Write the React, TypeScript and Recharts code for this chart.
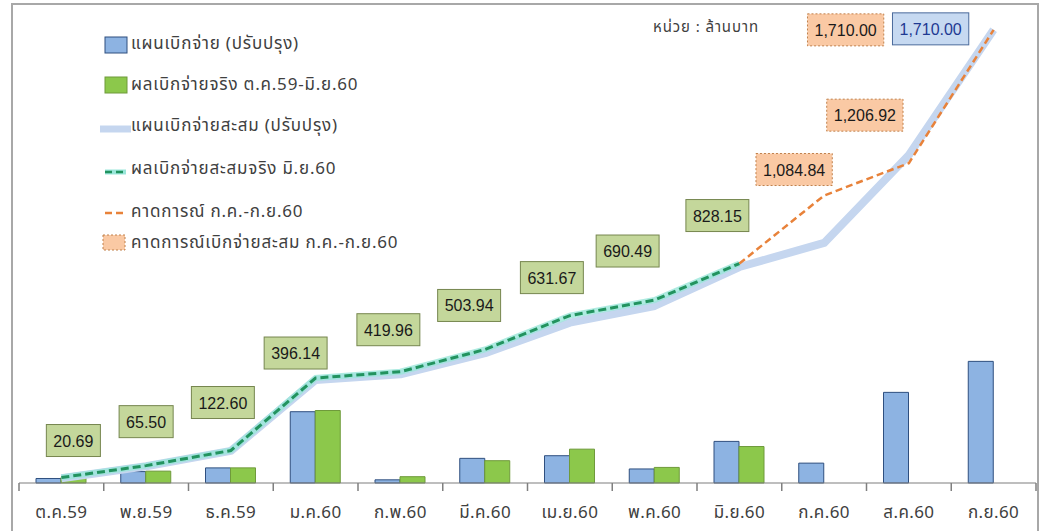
import React from 'react';
import { ComposedChart, Bar, Line, XAxis, YAxis, LabelList } from 'recharts';

// ---------- data ----------
const categories = ['ต.ค.59', 'พ.ย.59', 'ธ.ค.59', 'ม.ค.60', 'ก.พ.60', 'มี.ค.60', 'เม.ย.60', 'พ.ค.60', 'มิ.ย.60', 'ก.ค.60', 'ส.ค.60', 'ก.ย.60'];
const planMonthly = [17, 43, 57, 269, 12, 93, 103, 53, 157, 75, 342, 459];
const actualMonthly = [20.69, 44.81, 57.1, 273.54, 23.82, 84.16, 127.73, 58.82, 137.66, null, null, null];
const planCumulative = [18, 63, 121, 389, 410, 490, 605, 668, 815, 906, 1238, 1710];
const actualCumulative = [20.69, 65.5, 122.6, 396.14, 419.96, 503.94, 631.67, 690.49, 828.15, null, null, null];
const forecastCumulative = [null, null, null, null, null, null, null, null, 828.15, 1084.84, 1206.92, 1710.0];

const seriesNames = [
  'แผนเบิกจ่าย (ปรับปรุง)',
  'ผลเบิกจ่ายจริง ต.ค.59-มิ.ย.60',
  'แผนเบิกจ่ายสะสม (ปรับปรุง)',
  'ผลเบิกจ่ายสะสมจริง มิ.ย.60',
  'คาดการณ์ ก.ค.-ก.ย.60',
  'คาดการณ์เบิกจ่ายสะสม ก.ค.-ก.ย.60',
];
const unitLabel = 'หน่วย : ล้านบาท';
const yMax = 1800;

const data = categories.map((month, i) => ({
  month,
  planM: planMonthly[i],
  actM: actualMonthly[i],
  planC: planCumulative[i],
  actC: actualCumulative[i],
  fc: forecastCumulative[i],
}));

// ---------- styles ----------
const THAI = "'Noto Sans Thai', Tahoma, Loma, Garuda, 'Noto Sans', 'DejaVu Sans', sans-serif";
const NUM = "'Liberation Sans', Arial, sans-serif";
const BLUE_FILL = '#8db3e2';
const BLUE_STROKE = '#2f4f7f';
const GREEN_FILL = '#8cc84b';
const GREEN_STROKE = '#6f9a3b';
const PLAN_LINE = '#c5d6ef';
const ACT_LINE = '#22935f';
const ACT_GLOW = '#9ae6da';
const FC_LINE = '#e8823a';
const AXIS = '#7f7f7f';

// label nudges (relative to the point computed by the library)
const actualNudge: Record<number, [number, number]> = {
  0: [12, -37], 1: [0, -44], 2: [-8, -48], 3: [-20, -25], 4: [-12, -42],
  5: [-16, -44], 6: [-18, -38], 7: [-27, -49], 8: [-22, -48],
};
const forecastNudge: Record<number, [number, number]> = { 9: [-30, -26], 10: [-44, -48], 11: [-148, 0] };
const planNudge: Record<number, [number, number]> = { 11: [-63, -1] };

const fmt = (v: number) => v.toLocaleString('en-US', { minimumFractionDigits: 2, maximumFractionDigits: 2 });
const textW = (s: string) => {
  let w = 0;
  for (const ch of s) w += ch === '.' || ch === ',' ? 4.45 : 8.9;
  return w;
};

type BoxStyle = { fill: string; stroke: string; dash?: string; color: string };
const greenBox: BoxStyle = { fill: '#c4d79b', stroke: '#76864f', color: '#1a1a1a' };
const orangeBox: BoxStyle = { fill: '#fac9a4', stroke: '#c0804b', dash: '2 2', color: '#1a1a1a' };
const blueBox: BoxStyle = { fill: '#c6d9f1', stroke: '#4a6a9c', color: '#1f3a93' };

const makeBoxLabel = (nudge: Record<number, [number, number]>, st: BoxStyle) => (props: any) => {
  const { x, y, value, index } = props;
  if (value == null || x == null || y == null) return null;
  const n = nudge[index];
  if (!n) return null;
  const s = fmt(Number(value));
  const w = textW(s) + 14;
  const h = 32;
  const cx = x + n[0];
  const cy = y + n[1];
  return (
    <g>
      <rect x={cx - w / 2} y={cy - h / 2} width={w} height={h} fill={st.fill} stroke={st.stroke} strokeWidth={1} strokeDasharray={st.dash} />
      <text x={cx} y={cy + 6} textAnchor="middle" fontFamily={NUM} fontSize={16} fill={st.color}>{s}</text>
    </g>
  );
};

const AxisTick = (props: any) => {
  const { x, y, payload, index } = props;
  const px = Number(x);
  const py = Number(y);
  const half = payload && payload.offset ? Number(payload.offset) : 1017 / 24;
  const last = index === categories.length - 1;
  return (
    <g>
      <path d={`M${px - half},${py}L${px - half},${py + 8}`} stroke={AXIS} strokeWidth={1.5} fill="none" />
      {last && <path d={`M${px + half},${py}L${px + half},${py + 8}`} stroke={AXIS} strokeWidth={1.5} fill="none" />}
      <text x={px} y={py + 35} textAnchor="middle" fontFamily={THAI} fontSize={17} letterSpacing={0.4} fill="#404040">{payload.value}</text>
    </g>
  );
};

const LegendOverlay = () => {
  const tx = 131;
  const rows = [43, 84, 125, 168, 211, 242];
  return (
    <svg width={1042} height={531} style={{ position: 'absolute', left: 0, top: 0, pointerEvents: 'none' }}>
      <rect x={105} y={37} width={22} height={16} fill={BLUE_FILL} stroke={BLUE_STROKE} />
      <rect x={105} y={77} width={22} height={16} fill={GREEN_FILL} stroke={GREEN_STROKE} />
      <line x1={100} x2={131} y1={129} y2={129} stroke={PLAN_LINE} strokeWidth={7} />
      <line x1={105} x2={126} y1={172} y2={172} stroke={ACT_GLOW} strokeWidth={5} />
      <line x1={105} x2={126} y1={172} y2={172} stroke={ACT_LINE} strokeWidth={2.5} strokeDasharray="7 4" />
      <line x1={105} x2={126} y1={213} y2={213} stroke={FC_LINE} strokeWidth={2.5} strokeDasharray="7 4" />
      <rect x={103} y={235} width={22} height={15} fill={orangeBox.fill} stroke={orangeBox.stroke} strokeDasharray="2 2" />
      {seriesNames.map((s, i) => (
        <text key={s} x={tx} y={rows[i] + 6} fontFamily={THAI} fontSize={17} letterSpacing={0.8} fill="#404040">{s}</text>
      ))}
      <text x={653} y={32} fontFamily={THAI} fontSize={15} letterSpacing={0.9} fill="#404040">{unitLabel}</text>
    </svg>
  );
};

export default function App() {
  return (
    <div style={{ position: 'absolute', left: 0, top: 0, width: 1042, height: 531, background: '#ffffff', overflow: 'hidden' }}>
      <div style={{ position: 'absolute', left: 11, top: 3, width: 1024, height: 560, borderLeft: '2.5px solid #a8a8a8', borderTop: '2.5px solid #a8a8a8', borderRight: '2.5px solid #a8a8a8' }} />
      <ComposedChart width={1042} height={531} data={data} margin={{ top: 6, right: 6, bottom: 0, left: 19 }} barGap={0}>
        <XAxis dataKey="month" height={48} axisLine={{ stroke: AXIS, strokeWidth: 1.2 }} tickLine={false} tickSize={0} tickMargin={0} tick={AxisTick} interval={0} />
        <YAxis hide domain={[0, yMax]} />
        <Bar dataKey="planM" barSize={25} fill={BLUE_FILL} stroke={BLUE_STROKE} strokeWidth={1} isAnimationActive={false} />
        <Bar dataKey="actM" barSize={25} fill={GREEN_FILL} stroke={GREEN_STROKE} strokeWidth={1} isAnimationActive={false} />
        <Line dataKey="planC" type="linear" stroke={PLAN_LINE} strokeWidth={8} dot={false} activeDot={false} strokeLinejoin="round" isAnimationActive={false}>
          <LabelList dataKey="planC" content={makeBoxLabel(planNudge, blueBox)} />
        </Line>
        <Line dataKey="actC" type="linear" stroke={ACT_GLOW} strokeWidth={6} strokeOpacity={0.8} dot={false} activeDot={false} isAnimationActive={false} />
        <Line dataKey="actC" type="linear" stroke={ACT_LINE} strokeWidth={3} strokeDasharray="8 4" dot={false} activeDot={false} isAnimationActive={false}>
          <LabelList dataKey="actC" content={makeBoxLabel(actualNudge, greenBox)} />
        </Line>
        <Line dataKey="fc" type="linear" stroke={FC_LINE} strokeWidth={2.5} strokeDasharray="7 4" dot={false} activeDot={false} isAnimationActive={false}>
          <LabelList dataKey="fc" content={makeBoxLabel(forecastNudge, orangeBox)} />
        </Line>
      </ComposedChart>
      <LegendOverlay />
    </div>
  );
}
